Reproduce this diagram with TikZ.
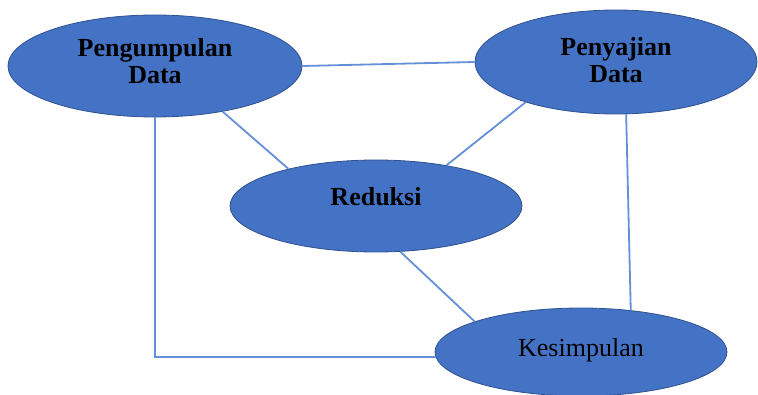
\documentclass[tikz,border=0pt]{standalone}
\usepackage{fontspec}
\setmainfont{Liberation Serif}
\usetikzlibrary{shapes.geometric}
\definecolor{ovalblue}{HTML}{4472C4}
\definecolor{ovalrim}{HTML}{2F528F}
\definecolor{linkblue}{HTML}{6490D8}
\tikzset{
  oval/.style={ellipse, draw=ovalrim, line width=0.8pt, fill=ovalblue, inner sep=0pt,
    align=center, font=\fontsize{26}{27}\selectfont},
  boldoval/.style={oval, font=\fontsize{26}{27}\selectfont\bfseries},
  link/.style={draw=linkblue, line width=1.8pt}
}
\begin{document}
\begin{tikzpicture}[x=1pt,y=-1pt]
    \useasboundingbox (0,0) rectangle (758,395);

    \node[boldoval, minimum width=294pt, minimum height=102pt, text depth=11pt] (pd) at (155,66) {Pengumpulan\\Data};
    \node[boldoval, minimum width=282pt, minimum height=104pt, text depth=4pt] (sd) at (616,62) {Penyajian\\Data};
    \node[boldoval, minimum width=292pt, minimum height=92pt, text depth=19pt] (rd) at (376,206) {Reduksi};
    \node[oval, minimum width=292pt, minimum height=88pt, text depth=9pt] (ks) at (581,352) {Kesimpulan};

    \draw [link] (pd.east) -- (sd.west);
    \draw [link] (pd.-34) -- (rd.157);
    \draw [link] (sd.-156) -- (rd.30);
    \draw [link] (sd.-79) -- (ks.40);
    \draw [link] (rd.-62) -- (ks.164);
    \draw [link] (pd.south) |- (ks.182);
\end{tikzpicture}
\end{document}
